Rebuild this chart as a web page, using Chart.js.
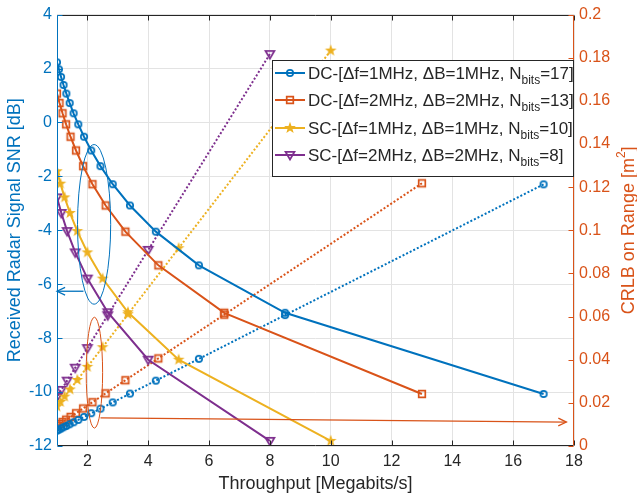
<!DOCTYPE html>
<html>
<head>
<meta charset="utf-8">
<script src="https://cdn.jsdelivr.net/npm/chart.js@4.4.1/dist/chart.umd.min.js"></script>
<style>
  html, body { margin: 0; padding: 0; background: #fff; }
  canvas { display: block; }
</style>
</head>
<body>
<canvas id="chart" width="637" height="496"></canvas>
<script>
// Axis ticks
const xTicks = [2, 4, 6, 8, 10, 12, 14, 16, 18];
const snrTicks = [-12, -10, -8, -6, -4, -2, 0, 2, 4];
const crlbTicks = [0, 0.02, 0.04, 0.06, 0.08, 0.1, 0.12, 0.14, 0.16, 0.18, 0.2];
const crlbTickLabels = ['0', '0.02', '0.04', '0.06', '0.08', '0.1', '0.12', '0.14', '0.16', '0.18', '0.2'];

// DC, df=1MHz, dB=1MHz, Nbits=17
const dc1Throughput = [17, 8.5, 5.667, 4.25, 3.4, 2.833, 2.429, 2.125, 1.889, 1.7, 1.545, 1.417, 1.308, 1.214, 1.133, 1.0625, 1];
const dc1Snr = [-10.07, -7.06, -5.30, -4.05, -3.08, -2.29, -1.62, -1.04, -0.53, -0.07, 0.34, 0.72, 1.07, 1.39, 1.69, 1.97, 2.23];
const dc1Crlb = [0.1213, 0.0607, 0.0404, 0.0303, 0.0243, 0.0202, 0.0173, 0.0152, 0.0135, 0.0121, 0.0110, 0.0101, 0.0093, 0.0087, 0.0081, 0.0076, 0.0071];

// DC, df=2MHz, dB=2MHz, Nbits=13
const dc2Throughput = [13, 6.5, 4.333, 3.25, 2.6, 2.167, 1.857, 1.625, 1.444, 1.3, 1.182, 1.083, 1];
const dc2Snr = [-10.07, -7.06, -5.30, -4.05, -3.08, -2.29, -1.62, -1.04, -0.53, -0.07, 0.34, 0.72, 1.07];
const dc2Crlb = [0.1218, 0.0609, 0.0406, 0.0305, 0.0244, 0.0203, 0.0174, 0.0152, 0.0135, 0.0122, 0.0111, 0.0102, 0.0094];

// SC, df=1MHz, dB=1MHz, Nbits=10
const sc1Throughput = [10, 5, 3.333, 2.5, 2, 1.667, 1.429, 1.25, 1.111, 1];
const sc1Snr = [-11.81, -8.80, -7.04, -5.79, -4.82, -4.03, -3.36, -2.78, -2.27, -1.81];
const sc1Crlb = [0.1833, 0.0917, 0.0611, 0.0458, 0.0367, 0.0306, 0.0262, 0.0229, 0.0204, 0.0183];

// SC, df=2MHz, dB=2MHz, Nbits=8
const sc2Throughput = [8, 4, 2.667, 2, 1.6, 1.333, 1.143, 1];
const sc2Snr = [-11.81, -8.80, -7.04, -5.79, -4.82, -4.03, -3.36, -2.78];
const sc2Crlb = [0.1817, 0.0909, 0.0606, 0.0454, 0.0363, 0.0303, 0.0260, 0.0227];

// Legend text: main part, subscript, tail
const legendMain = ['DC-[\u0394f=1MHz, \u0394B=1MHz, N', 'DC-[\u0394f=2MHz, \u0394B=2MHz, N', 'SC-[\u0394f=1MHz, \u0394B=1MHz, N', 'SC-[\u0394f=2MHz, \u0394B=2MHz, N'];
const legendSub = ['bits', 'bits', 'bits', 'bits'];
const legendTail = ['=17]', '=13]', '=10]', '=8]'];

const BLUE = '#0072BD', ORANGE = '#D95319', YELLOW = '#EDB120', PURPLE = '#7E2F8E';
const AXIS = '#262626';
const FONT = '"Liberation Sans", Arial, Helvetica, sans-serif';

// Callouts (data units)
const snrCallout = { x: 2.22, y: -3.78, rx: 0.545, ry: 2.96 };
const snrArrow = { x0: 1.87, y0: -6.26, x1: 1.0, y1: -6.26 };
const crlbCallout = { x: 2.23, y: 0.034, rx: 0.27, ry: 0.0257 };
const crlbArrow = { x0: 2.43, y0: 0.013, x1: 17.75, y1: 0.0111 };

// Marker images, drawn like matlab markers
function makeMarker(kind, color) {
    const c = document.createElement('canvas');
    c.width = 16; c.height = 16;
    const g = c.getContext('2d');
    const m = 8;
    g.strokeStyle = color;
    g.fillStyle = color;
    g.lineWidth = 1.7;
    g.beginPath();
    if (kind === 'circle') {
        g.arc(m, m, 3.2, 0, Math.PI * 2);
        g.stroke();
    } else if (kind === 'square') {
        g.rect(m - 3.3, m - 3.3, 6.6, 6.6);
        g.stroke();
    } else if (kind === 'star') {
        for (let i = 0; i < 10; i++) {
            const r = i % 2 ? 2.5 : 6.2;
            const ang = -Math.PI / 2 + i * Math.PI / 5;
            g.lineTo(m + r * Math.cos(ang), m + r * Math.sin(ang));
        }
        g.closePath();
        g.fill();
    } else {
        g.moveTo(m - 4.5, m - 3.2);
        g.lineTo(m + 4.5, m - 3.2);
        g.lineTo(m, m + 4.5);
        g.closePath();
        g.stroke();
    }
    return c;
}

const colors = [BLUE, ORANGE, YELLOW, PURPLE];
const markers = [
    makeMarker('circle', BLUE),
    makeMarker('square', ORANGE),
    makeMarker('star', YELLOW),
    makeMarker('triangle', PURPLE),
];

function series(xs, ys, axis, idx, dotted) {
    return {
        data: xs.map((x, i) => ({ x: x, y: ys[i] })),
        yAxisID: axis,
        borderColor: colors[idx],
        backgroundColor: colors[idx],
        borderWidth: 2,
        borderDash: dotted ? [2, 2] : [],
        pointStyle: markers[idx],
        pointRadius: 4,
        tension: 0,
        fill: false,
    };
}

function arrowHead(ctx, x0, y0, x1, y1, size) {
    const ang = Math.atan2(y1 - y0, x1 - x0);
    ctx.beginPath();
    ctx.moveTo(x1 - size * Math.cos(ang - 0.45), y1 - size * Math.sin(ang - 0.45));
    ctx.lineTo(x1, y1);
    ctx.lineTo(x1 - size * Math.cos(ang + 0.45), y1 - size * Math.sin(ang + 0.45));
    ctx.stroke();
}

function drawCallout(ctx, xs, ys, ell, arr, color) {
    const cx = xs.getPixelForValue(ell.x), cy = ys.getPixelForValue(ell.y);
    const rx = Math.abs(xs.getPixelForValue(ell.x + ell.rx) - cx);
    const ry = Math.abs(ys.getPixelForValue(ell.y + ell.ry) - cy);
    ctx.strokeStyle = color;
    ctx.lineWidth = 1;
    ctx.beginPath();
    ctx.ellipse(cx, cy, rx, ry, 0, 0, Math.PI * 2);
    ctx.stroke();
    const x0 = xs.getPixelForValue(arr.x0), y0 = ys.getPixelForValue(arr.y0);
    const x1 = xs.getPixelForValue(arr.x1), y1 = ys.getPixelForValue(arr.y1);
    ctx.lineWidth = 1.3;
    ctx.beginPath();
    ctx.moveTo(x0, y0);
    ctx.lineTo(x1, y1);
    ctx.stroke();
    arrowHead(ctx, x0, y0, x1, y1, 9);
}

// Frame, inward ticks, callouts, titles and legend
const overlay = {
    id: 'overlay',
    afterDatasetsDraw(chart) {
        const { ctx, chartArea: a, scales } = chart;
        const L = Math.round(a.left) + 0.5, R = Math.round(a.right) - 0.5;
        const T = Math.round(a.top) + 0.5, B = Math.round(a.bottom) - 0.5;
        ctx.save();
        ctx.lineWidth = 1;

        drawCallout(ctx, scales.x, scales.y, snrCallout, snrArrow, BLUE);
        drawCallout(ctx, scales.x, scales.y1, crlbCallout, crlbArrow, ORANGE);

        ctx.lineWidth = 1;
        ctx.strokeStyle = AXIS;
        ctx.beginPath();
        ctx.moveTo(L, T); ctx.lineTo(R, T);
        ctx.moveTo(L, B); ctx.lineTo(R, B);
        xTicks.forEach(v => {
            const px = Math.round(scales.x.getPixelForValue(v)) + 0.5;
            ctx.moveTo(px, B); ctx.lineTo(px, B - 5);
            ctx.moveTo(px, T); ctx.lineTo(px, T + 5);
        });
        ctx.stroke();

        ctx.strokeStyle = BLUE;
        ctx.beginPath();
        ctx.moveTo(L, T); ctx.lineTo(L, B);
        snrTicks.forEach(v => {
            const py = Math.round(scales.y.getPixelForValue(v)) + 0.5;
            ctx.moveTo(L, py); ctx.lineTo(L + 5, py);
        });
        ctx.stroke();

        ctx.strokeStyle = ORANGE;
        ctx.beginPath();
        ctx.moveTo(R, T); ctx.lineTo(R, B);
        crlbTicks.forEach(v => {
            const py = Math.round(scales.y1.getPixelForValue(v)) + 0.5;
            ctx.moveTo(R, py); ctx.lineTo(R - 5, py);
        });
        ctx.stroke();

        // Axis titles
        const cyMid = (a.top + a.bottom) / 2;
        ctx.textBaseline = 'middle';
        ctx.textAlign = 'center';
        ctx.font = '18px ' + FONT;
        ctx.fillStyle = AXIS;
        ctx.fillText('Throughput [Megabits/s]', (a.left + a.right) / 2, 484);

        ctx.save();
        ctx.translate(15, cyMid);
        ctx.rotate(-Math.PI / 2);
        ctx.fillStyle = BLUE;
        ctx.fillText('Received Radar Signal SNR [dB]', 0, 0);
        ctx.restore();

        ctx.save();
        ctx.translate(629, cyMid);
        ctx.rotate(-Math.PI / 2);
        ctx.fillStyle = ORANGE;
        ctx.textAlign = 'left';
        const p1 = 'CRLB on Range [m', p2 = '2', p3 = ']';
        ctx.font = '18px ' + FONT;
        const w1 = ctx.measureText(p1).width, w3 = ctx.measureText(p3).width;
        ctx.font = '12px ' + FONT;
        const w2 = ctx.measureText(p2).width;
        let sx = -(w1 + w2 + w3) / 2;
        ctx.font = '18px ' + FONT;
        ctx.fillText(p1, sx, 0);
        ctx.font = '12px ' + FONT;
        ctx.fillText(p2, sx + w1, -7);
        ctx.font = '18px ' + FONT;
        ctx.fillText(p3, sx + w1 + w2, 0);
        ctx.restore();

        // Legend
        const bx0 = 272.5, by0 = 60.5, bx1 = 573.5, by1 = 176.5;
        ctx.fillStyle = '#fff';
        ctx.fillRect(bx0, by0, bx1 - bx0, by1 - by0);
        ctx.strokeStyle = AXIS;
        ctx.lineWidth = 1;
        ctx.strokeRect(bx0, by0, bx1 - bx0, by1 - by0);
        const rows = [73, 100, 128, 155];
        ctx.textAlign = 'left';
        ctx.textBaseline = 'alphabetic';
        rows.forEach((ry, i) => {
            ctx.strokeStyle = colors[i];
            ctx.lineWidth = 2;
            ctx.beginPath();
            ctx.moveTo(275, ry); ctx.lineTo(305, ry);
            ctx.stroke();
            ctx.drawImage(markers[i], 290 - 8, ry - 8);
            ctx.fillStyle = AXIS;
            let tx = 308;
            ctx.font = '17px ' + FONT;
            ctx.fillText(legendMain[i], tx, ry + 6);
            tx += ctx.measureText(legendMain[i]).width;
            ctx.font = '12px ' + FONT;
            ctx.fillText(legendSub[i], tx, ry + 11);
            tx += ctx.measureText(legendSub[i]).width;
            ctx.font = '17px ' + FONT;
            ctx.fillText(legendTail[i], tx, ry + 6);
        });
        ctx.restore();
    }
};

const ctx = document.getElementById('chart').getContext('2d');
const chart = new Chart(ctx, {
    type: 'line',
    data: {
        datasets: [
            series(dc1Throughput, dc1Snr, 'y', 0, false),
            series(dc2Throughput, dc2Snr, 'y', 1, false),
            series(sc1Throughput, sc1Snr, 'y', 2, false),
            series(sc2Throughput, sc2Snr, 'y', 3, false),
            series(dc1Throughput, dc1Crlb, 'y1', 0, true),
            series(dc2Throughput, dc2Crlb, 'y1', 1, true),
            series(sc1Throughput, sc1Crlb, 'y1', 2, true),
            series(sc2Throughput, sc2Crlb, 'y1', 3, true),
        ],
    },
    options: {
        responsive: false,
        animation: false,
        devicePixelRatio: 1,
        layout: { padding: { top: 14, left: 0, right: 0, bottom: 0 } },
        plugins: {
            legend: { display: false },
            tooltip: { enabled: false },
        },
        scales: {
            x: {
                type: 'linear',
                min: 1,
                max: 18,
                afterBuildTicks: s => { s.ticks = xTicks.map(v => ({ value: v })); },
                afterFit: s => { s.height = 50; },
                grid: { color: '#e3e3e3', drawTicks: false },
                border: { display: false },
                ticks: { color: AXIS, font: { family: FONT, size: 16 }, padding: 6, maxRotation: 0 },
            },
            y: {
                type: 'linear',
                position: 'left',
                min: -12,
                max: 4,
                afterBuildTicks: s => { s.ticks = snrTicks.map(v => ({ value: v })); },
                afterFit: s => { s.width = 57; },
                grid: { color: '#e3e3e3', drawTicks: false },
                border: { display: false },
                ticks: { color: BLUE, font: { family: FONT, size: 16 }, padding: 5 },
            },
            y1: {
                type: 'linear',
                position: 'right',
                min: 0,
                max: 0.2,
                afterBuildTicks: s => { s.ticks = crlbTicks.map(v => ({ value: v })); },
                afterFit: s => { s.width = 63; },
                grid: { display: false, drawTicks: false },
                border: { display: false },
                ticks: {
                    color: ORANGE,
                    font: { family: FONT, size: 16 },
                    padding: 5,
                    callback: (v, i) => crlbTickLabels[i],
                },
            },
        },
    },
    plugins: [overlay],
});
</script>
</body>
</html>
